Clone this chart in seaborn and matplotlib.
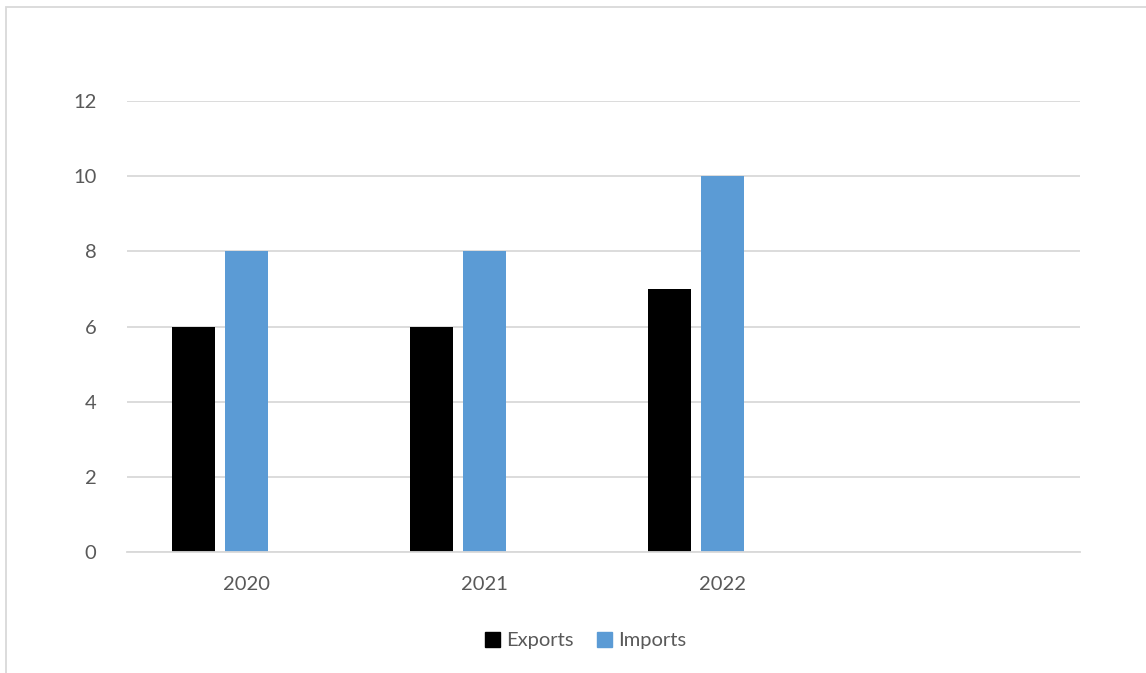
import matplotlib
matplotlib.use("Agg")
import matplotlib.pyplot as plt
import pandas as pd
import seaborn as sns
from matplotlib.patches import Patch, Rectangle

years = ["2020", "2021", "2022", ""]
exports = [6, 6, 7, 0]
imports = [8, 8, 10, 0]
series3 = [0, 0, 0, 0]  # empty third series, keeps the group spacing
series = ["Exports", "Imports", "Series 3"]
colors = ["#000000", "#5B9BD5", "#FFFFFF"]
y_ticks = [0, 2, 4, 6, 8, 10, 12]

df = pd.DataFrame({
    "year": years * 3,
    "value": exports + imports + series3,
    "series": [s for s in series for _ in years],
})

sns.set_style("white")
plt.rcParams["font.family"] = ["Lato", "DejaVu Sans"]
text_color = "#595959"

fig = plt.figure(figsize=(11.46, 6.73), dpi=100)
ax = fig.add_axes([0.1108, 0.1798, 0.8316, 0.6701])

sns.barplot(
    data=df, x="year", y="value", hue="series",
    order=years, hue_order=series, palette=colors, saturation=1,
    width=0.667, gap=0.19, linewidth=0, legend=False, ax=ax,
)

ax.set_ylim(0, 12)
ax.set_xlim(-0.5, len(years) - 0.5)
ax.set_yticks(y_ticks)
ax.yaxis.grid(True, color="#D9D9D9", linewidth=1.3)
ax.set_axisbelow(True)
for side in ["top", "right", "left"]:
    ax.spines[side].set_visible(False)
ax.spines["bottom"].set_color("#D9D9D9")
ax.spines["bottom"].set_linewidth(1.3)
ax.tick_params(axis="both", length=0, labelsize=14.5, colors=text_color)
ax.tick_params(axis="x", pad=17)
ax.tick_params(axis="y", pad=22)
ax.set_xlabel("")
ax.set_ylabel("")

handles = [Patch(color=colors[0], label=series[0]), Patch(color=colors[1], label=series[1])]
fig.legend(
    handles=handles, loc="center", bbox_to_anchor=(0.511, 0.048), ncol=2,
    frameon=False, fontsize=14.5, labelcolor=text_color,
    handlelength=0.75, handleheight=0.75, handletextpad=0.3, columnspacing=1.2,
)

fig.patches.append(Rectangle((0.005, -0.01), 1.1, 1.0, transform=fig.transFigure,
                             fill=False, edgecolor="#D9D9D9", linewidth=1.3))

fig.savefig("out.png", dpi=100)
